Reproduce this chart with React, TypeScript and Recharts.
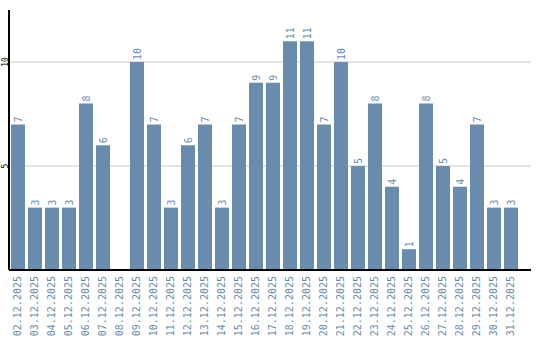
import { BarChart, Bar, XAxis, YAxis, CartesianGrid, LabelList } from "recharts";

const DATES = [
    "02.12.2025", "03.12.2025", "04.12.2025", "05.12.2025", "06.12.2025",
    "07.12.2025", "08.12.2025", "09.12.2025", "10.12.2025", "11.12.2025",
    "12.12.2025", "13.12.2025", "14.12.2025", "15.12.2025", "16.12.2025",
    "17.12.2025", "18.12.2025", "19.12.2025", "20.12.2025", "21.12.2025",
    "22.12.2025", "23.12.2025", "24.12.2025", "25.12.2025", "26.12.2025",
    "27.12.2025", "28.12.2025", "29.12.2025", "30.12.2025", "31.12.2025"
];

const COUNTS = [7, 3, 3, 3, 8, 6, 0, 10, 7, 3, 6, 7, 3, 7, 9, 9, 11, 11, 7, 10, 5, 8, 4, 1, 8, 5, 4, 7, 3, 3];

const Y_TICKS = [5, 10];

const BLUE = "#6a8cac";
const FONT = "'DejaVu Sans Mono', monospace";

const data = DATES.map((date, i) => ({ date, count: COUNTS[i] }));

const DateTick = ({ x, payload }: any) => (
    <text
        x={0}
        y={0}
        transform={`translate(${x},276) rotate(-90)`}
        textAnchor="end"
        dominantBaseline="central"
        fontSize={10}
        fontFamily={FONT}
        fill={BLUE}
    >
        {payload.value}
    </text>
);

const ValueTick = ({ y, payload }: any) => (
    <text
        x={0}
        y={0}
        transform={`translate(5,${y}) rotate(-90)`}
        textAnchor="middle"
        dominantBaseline="central"
        fontSize={8}
        fontFamily={FONT}
        fill="#000"
    >
        {payload.value}
    </text>
);

const BarValue = ({ x, y, width, value }: any) => {
    if (!value) return null;
    return (
        <text
            x={0}
            y={0}
            transform={`translate(${x + width / 2},${y - 2}) rotate(-90)`}
            textAnchor="start"
            dominantBaseline="central"
            fontSize={10}
            fontFamily={FONT}
            fill={BLUE}
        >
            {value}
        </text>
    );
};

const App = () => {
    return (
        <div style={{ position: "absolute", left: 0, top: 0, background: "#fff" }}>
            <BarChart
                width={540}
                height={340}
                data={data}
                margin={{ top: 10, right: 9, left: 0, bottom: 0 }}
            >
                <CartesianGrid vertical={false} stroke="#c8c8c8" horizontalValues={Y_TICKS} />
                <XAxis
                    dataKey="date"
                    interval={0}
                    height={70}
                    tickLine={false}
                    axisLine={{ stroke: "#000", strokeWidth: 2 }}
                    padding={{ left: 0, right: 12 }}
                    tick={<DateTick />}
                />
                <YAxis
                    width={9}
                    domain={[0, 12.5]}
                    ticks={Y_TICKS}
                    tickLine={false}
                    axisLine={{ stroke: "#000", strokeWidth: 2 }}
                    tick={<ValueTick />}
                />
                <Bar dataKey="count" fill={BLUE} barSize={14} isAnimationActive={false}>
                    <LabelList dataKey="count" content={<BarValue />} />
                </Bar>
            </BarChart>
        </div>
    );
};

export default App;
